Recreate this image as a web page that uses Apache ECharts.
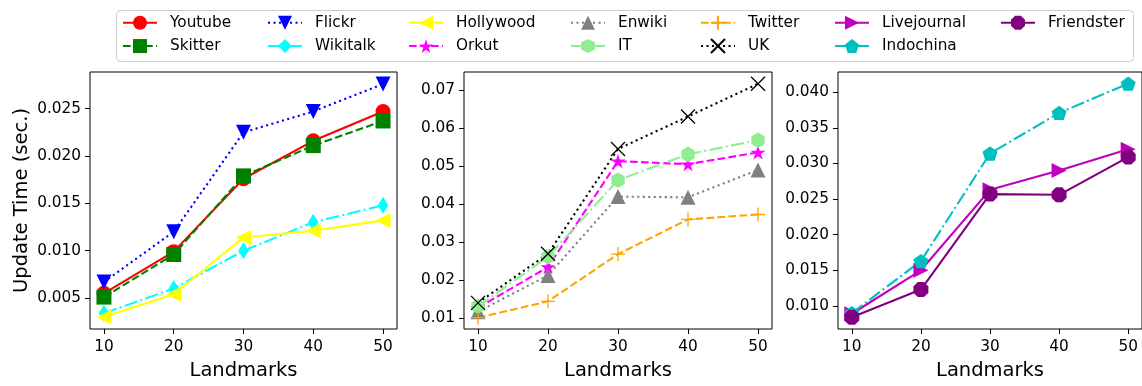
<!DOCTYPE html>
<html><head><meta charset="utf-8">
<script src="https://cdn.jsdelivr.net/npm/echarts@6/dist/echarts.min.js"></script>
<style>html,body{margin:0;padding:0;background:#fff}#c{width:1142px;height:386px}</style>
</head><body><div id="c"></div>
<script>
// ---- data ----
const landmarks = [10, 20, 30, 40, 50];
const xTicks = [10, 20, 30, 40, 50];
const p1Ticks = [0.005, 0.010, 0.015, 0.020, 0.025];
const p2Ticks = [0.01, 0.02, 0.03, 0.04, 0.05, 0.06, 0.07];
const p3Ticks = [0.010, 0.015, 0.020, 0.025, 0.030, 0.035, 0.040];

const youtube   = [0.0055, 0.0099, 0.0176, 0.0216, 0.0247];
const skitter   = [0.0051, 0.0096, 0.0179, 0.0211, 0.0237];
const flickr    = [0.0067, 0.0120, 0.0225, 0.0247, 0.0276];
const wikitalk  = [0.0034, 0.0060, 0.0100, 0.0130, 0.0148];
const hollywood = [0.0030, 0.0054, 0.0114, 0.0121, 0.0132];

const orkut  = [0.0128, 0.0235, 0.0513, 0.0505, 0.0536];
const enwiki = [0.0118, 0.0213, 0.0420, 0.0418, 0.0490];
const itData = [0.0132, 0.0262, 0.0463, 0.0531, 0.0568];
const twitter= [0.0102, 0.0145, 0.0269, 0.0360, 0.0373];
const uk     = [0.0141, 0.0270, 0.0545, 0.0630, 0.0716];

const livejournal = [0.0089, 0.0150, 0.0263, 0.0290, 0.0320];
const indochina   = [0.0090, 0.0163, 0.0314, 0.0371, 0.0412];
const friendster  = [0.0084, 0.0123, 0.0257, 0.0256, 0.0309];

// ---- marker shapes ----
function polyPath(n, r0, rot, inner) {
  const pts = [];
  const m = inner ? n * 2 : n;
  for (let k = 0; k < m; k++) {
    const r = inner && (k % 2 === 1) ? inner : 1;
    const a = (rot + k * 360 / m) * Math.PI / 180;
    pts.push([(r * Math.cos(a)).toFixed(4), (-r * Math.sin(a)).toFixed(4)]);
  }
  return 'path://M' + pts.map(p => p[0] + ',' + p[1]).join('L') + 'Z';
}
const SYM = {
  circle: 'circle',
  square: 'rect',
  tdown: 'path://M0,0L10,0L5,10Z',
  tup: 'path://M5,0L10,10L0,10Z',
  tleft: 'path://M0,5L10,0L10,10Z',
  tright: 'path://M0,0L10,5L0,10Z',
  thindiamond: 'diamond',
  star: polyPath(5, 1, 90, 0.381966),
  hexagon: polyPath(6, 1, 90),
  pentagon: polyPath(5, 1, 90),
  octagon: polyPath(8, 1, 22.5),
  plus: 'path://M5,0L5,10M0,5L10,5',
  x: 'path://M0,0L10,10M10,0L0,10'
};
const DASH = {
  solid: 'solid',
  dashed: [7.7, 3.3],
  dotted: [2.1, 3.4],
  dashdot: [13.3, 3.3, 2.1, 3.3]
};

const seriesDefs = [
  {name: 'Youtube',     g: 0, data: youtube,     color: '#ff0000', ls: 'solid',   sym: 'circle',      size: 15},
  {name: 'Skitter',     g: 0, data: skitter,     color: '#008000', ls: 'dashed',  sym: 'square',      size: 15},
  {name: 'Flickr',      g: 0, data: flickr,      color: '#0000ff', ls: 'dotted',  sym: 'tdown',       size: 15},
  {name: 'Wikitalk',    g: 0, data: wikitalk,    color: '#00ffff', ls: 'dashdot', sym: 'thindiamond', size: [10.5, 17]},
  {name: 'Hollywood',   g: 0, data: hollywood,   color: '#ffff00', ls: 'solid',   sym: 'tleft',       size: 15},
  {name: 'Orkut',       g: 1, data: orkut,       color: '#ff00ff', ls: 'dashed',  sym: 'star',        size: [15, 14.3]},
  {name: 'Enwiki',      g: 1, data: enwiki,      color: '#808080', ls: 'dotted',  sym: 'tup',         size: 15},
  {name: 'IT',          g: 1, data: itData,      color: '#90ee90', ls: 'dashdot', sym: 'hexagon',     size: [13.4, 15.4]},
  {name: 'Twitter',     g: 1, data: twitter,     color: '#ffa500', ls: 'dashed',  sym: 'plus',        size: 14, stroke: true},
  {name: 'UK',          g: 1, data: uk,          color: '#000000', ls: 'dotted',  sym: 'x',           size: 14, stroke: true},
  {name: 'Livejournal', g: 2, data: livejournal, color: '#bf00bf', ls: 'solid',   sym: 'tright',      size: 15},
  {name: 'Indochina',   g: 2, data: indochina,   color: '#00bfbf', ls: 'dashdot', sym: 'pentagon',    size: [15, 14.3]},
  {name: 'Friendster',  g: 2, data: friendster,  color: '#800080', ls: 'solid',   sym: 'octagon',     size: 15}
];

const legendCols = [
  ['Youtube', 'Skitter'], ['Flickr', 'Wikitalk'], ['Hollywood', 'Orkut'],
  ['Enwiki', 'IT'], ['Twitter', 'UK'], ['Livejournal', 'Indochina'], ['Friendster']
];
const legendLefts = [122, 267, 408, 570, 700, 834, 1000];

const FONT = 'DejaVu Sans';
const grids = [
  {left: 90, top: 72, width: 307, height: 261},
  {left: 464, top: 72, width: 308, height: 261},
  {left: 838, top: 72, width: 308, height: 261}
];
const yRanges = [[0.00173, 0.02887], [0.00724, 0.0747], [0.00676, 0.04284]];
const yTicks = [p1Ticks, p2Ticks, p3Ticks];
const yDec = [3, 2, 3];

const option = {
  animation: false,
  backgroundColor: '#fff',
  graphic: [{
    type: 'rect', z: 1,
    shape: {x: 116.5, y: 10.5, width: 1017, height: 51, r: 4},
    style: {fill: '#fff', stroke: '#cccccc', lineWidth: 1}
  }],
  grid: grids.map(g => Object.assign({show: true, borderColor: '#000', borderWidth: 1, backgroundColor: 'transparent'}, g)),
  xAxis: grids.map((g, i) => ({
    type: 'value', gridIndex: i, min: 8, max: 52,
    name: 'Landmarks', nameLocation: 'middle', nameGap: 32,
    nameTextStyle: {fontFamily: FONT, fontSize: 19.5, color: '#000'},
    axisLine: {show: false},
    splitLine: {show: false},
    axisTick: {show: true, inside: false, length: 5, lineStyle: {color: '#000', width: 1}, customValues: xTicks},
    axisLabel: {show: true, margin: 11, fontFamily: FONT, fontSize: 15.3, color: '#000', customValues: xTicks,
      formatter: v => String(v)}
  })),
  yAxis: grids.map((g, i) => ({
    type: 'value', gridIndex: i, min: yRanges[i][0], max: yRanges[i][1],
    name: i === 0 ? 'Update Time (sec.)' : '', nameLocation: 'middle', nameGap: 58,
    nameTextStyle: {fontFamily: FONT, fontSize: 19.5, color: '#000'},
    axisLine: {show: false},
    splitLine: {show: false},
    axisTick: {show: true, inside: false, length: 5, lineStyle: {color: '#000', width: 1}, customValues: yTicks[i]},
    axisLabel: {show: true, margin: 9, fontFamily: FONT, fontSize: 15.3, color: '#000', customValues: yTicks[i],
      formatter: v => Number(v).toFixed(yDec[i])}
  })),
  legend: legendCols.map((col, i) => ({
    orient: 'vertical', left: legendLefts[i], top: 14, padding: 0, z: 5,
    itemWidth: 34, itemHeight: 17.5, itemGap: 5.8,
    selectedMode: false,
    data: col,
    textStyle: {fontFamily: FONT, fontSize: 15.3, color: '#000', lineHeight: 17.5, padding: [0, 0, 0, 8]}
  })),
  series: seriesDefs.map(s => ({
    name: s.name, type: 'line', xAxisIndex: s.g, yAxisIndex: s.g,
    data: landmarks.map((x, j) => [x, s.data[j]]),
    symbol: SYM[s.sym], symbolSize: s.size,
    showAllSymbol: true, clip: false,
    lineStyle: {color: s.color, width: 2.1, type: DASH[s.ls]},
    itemStyle: s.stroke ? {color: s.color, borderColor: s.color, borderWidth: 1.3} : {color: s.color},
    emphasis: {disabled: true}
  }))
};
const chart = echarts.init(document.getElementById('c'), null, {renderer: 'canvas'});
chart.setOption(option);
</script></body></html>
